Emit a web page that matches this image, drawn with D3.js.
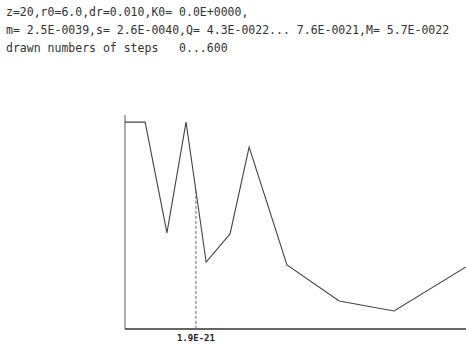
<!DOCTYPE html>
<html>
<head>
<meta charset="utf-8">
<script src="https://cdn.jsdelivr.net/npm/d3@7"></script>
<style>
  body { margin: 0; background: #fff; }
  svg { display: block; }
  .head { font-family: "DejaVu Sans Mono", monospace; font-size: 11.5px; fill: #333; }
  .mark { font-family: "DejaVu Sans Mono", monospace; font-size: 9px; font-weight: bold; fill: #222; }
</style>
</head>
<body>
<div id="chart"></div>
<script>
// header lines
var headerLines = [
  "z=20,r0=6.0,dr=0.010,K0= 0.0E+0000,",
  "m= 2.5E-0039,s= 2.6E-0040,Q= 4.3E-0022... 7.6E-0021,M= 5.7E-0022",
  "drawn numbers of steps   0...600"
];

// curve points (x in % of plot width, y in units of 1E-21)
var stepX = [0, 5.9, 12.3, 17.9, 23.8, 30.8, 36.4, 47.5, 62.8, 78.9, 100];
var qVal  = [7.6, 7.6, 3.53, 7.6, 2.46, 3.49, 6.68, 2.35, 1.03, 0.66, 2.28];

// dashed marker
var markerX = 20.8;
var markerLabel = "1.9E-21";

var svgWidth = 466;
var svgHeight = 347;

var svg = d3.select("#chart")
  .append("svg")
  .attr("width", svgWidth)
  .attr("height", svgHeight);

svg.selectAll("text.head")
  .data(headerLines)
  .enter()
  .append("text")
  .attr("class", "head")
  .attr("x", 6)
  .attr("y", (d, i) => 16 + i * 18)
  .attr("xml:space", "preserve")
  .style("white-space", "pre")
  .text(d => d);

var xScale = d3.scaleLinear()
  .domain([0, 100])
  .range([125, 466]);

var yScale = d3.scaleLinear()
  .domain([0, 7.86])
  .range([329, 115]);

// axes: plain lines, no ticks
svg.append("line")
  .attr("x1", xScale(0)).attr("x2", xScale(0))
  .attr("y1", yScale(0)).attr("y2", yScale(7.86))
  .attr("stroke", "#777").attr("stroke-width", 1.2);

svg.append("line")
  .attr("x1", xScale(0)).attr("x2", xScale(100))
  .attr("y1", yScale(0)).attr("y2", yScale(0))
  .attr("stroke", "#333").attr("stroke-width", 1.5);

var pts = stepX.map((x, i) => [x, qVal[i]]);

var line = d3.line()
  .x(d => xScale(d[0]))
  .y(d => yScale(d[1]));

svg.append("path")
  .datum(pts)
  .attr("d", line)
  .attr("fill", "none")
  .attr("stroke", "#444")
  .attr("stroke-width", 1.1);

// value of the curve at the marker
var yAtMarker = d3.scaleLinear().domain(stepX).range(qVal)(markerX);

svg.append("line")
  .attr("x1", xScale(markerX)).attr("x2", xScale(markerX))
  .attr("y1", yScale(yAtMarker)).attr("y2", yScale(0))
  .attr("stroke", "#666")
  .attr("stroke-width", 1)
  .attr("stroke-dasharray", "3,2");

svg.append("text")
  .attr("class", "mark")
  .attr("x", xScale(markerX))
  .attr("y", 341)
  .attr("text-anchor", "middle")
  .text(markerLabel);
</script>
</body>
</html>
